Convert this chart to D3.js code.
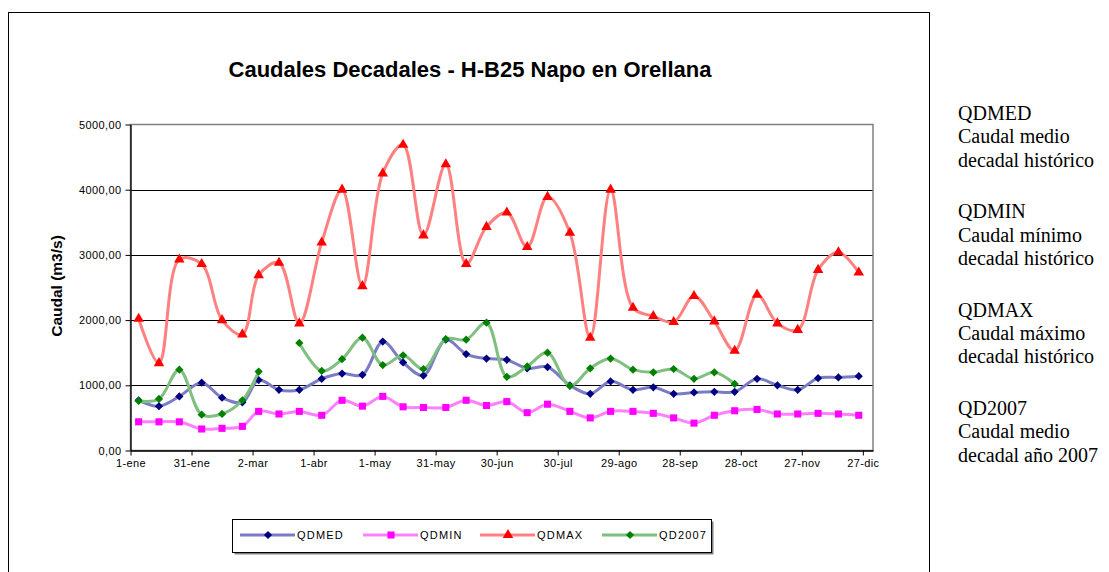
<!DOCTYPE html>
<html>
<head>
<meta charset="utf-8">
<title>Caudales Decadales - H-B25 Napo en Orellana</title>
<script src="https://d3js.org/d3.v7.min.js"></script>
<style>
  body { margin: 0; background: #fff; }
  text { font-family: "Liberation Sans", Arial, sans-serif; }
</style>
</head>
<body>
<div id="chart"></div>
<script>
// Decadas (fecha central de cada decada)
const decadas = [
  "2007-01-05", "2007-01-15", "2007-01-25", "2007-02-05", "2007-02-15", "2007-02-25",
  "2007-03-05", "2007-03-15", "2007-03-25", "2007-04-05", "2007-04-15", "2007-04-25",
  "2007-05-05", "2007-05-15", "2007-05-25", "2007-06-05", "2007-06-15", "2007-06-25",
  "2007-07-05", "2007-07-15", "2007-07-25", "2007-08-05", "2007-08-15", "2007-08-25",
  "2007-09-05", "2007-09-15", "2007-09-25", "2007-10-05", "2007-10-15", "2007-10-25",
  "2007-11-05", "2007-11-15", "2007-11-25", "2007-12-05", "2007-12-15", "2007-12-25"
];
const qdmed = [770, 680, 830, 1040, 810, 740, 1080, 930, 930, 1100, 1180, 1160,
  1670, 1350, 1150, 1700, 1480, 1410, 1390, 1260, 1280, 1000, 870, 1060,
  930, 970, 870, 890, 900, 900, 1100, 1000, 930, 1110, 1120, 1140];
const qdmin = [440, 440, 440, 330, 340, 370, 600, 560, 600, 540, 770, 680,
  830, 670, 660, 660, 770, 690, 750, 580, 710, 600, 500, 600,
  600, 570, 500, 420, 540, 610, 630, 560, 560, 570, 560, 540];
const qdmax = [2020, 1340, 2930, 2860, 2000, 1780, 2690, 2880, 1950, 3190, 4000, 2520,
  4250, 4690, 3300, 4390, 2860, 3430, 3650, 3120, 3890, 3340, 1730, 4000,
  2190, 2060, 1970, 2370, 1980, 1530, 2390, 1950, 1850, 2770, 3040, 2730];
const qd2007 = [760, 790, 1240, 550, 560, 770, 1210, null, 1650, 1220, 1400, 1730,
  1310, 1460, 1250, 1710, 1700, 1960, 1130, 1290, 1500, 990, 1260, 1410,
  1240, 1200, 1250, 1100, 1200, 1020, null, null, null, null, null, null];
const tickLabels = ["1-ene", "31-ene", "2-mar", "1-abr", "1-may", "31-may", "30-jun",
  "30-jul", "29-ago", "28-sep", "28-oct", "27-nov", "27-dic"];
const yTicks = [0, 1000, 2000, 3000, 4000, 5000];

const series = [
  { name: "QDMED", values: qdmed, line: "#7b7bc6", marker: "#000080", shape: "diamond" },
  { name: "QDMIN", values: qdmin, line: "#ff80ff", marker: "#ff00ff", shape: "square" },
  { name: "QDMAX", values: qdmax, line: "#ff8080", marker: "#ff0000", shape: "triangle" },
  { name: "QD2007", values: qd2007, line: "#7fbf7f", marker: "#008000", shape: "diamond" }
];
const notas = [
  ["QDMED", "Caudal medio", "decadal histórico"],
  ["QDMIN", "Caudal mínimo", "decadal histórico"],
  ["QDMAX", "Caudal máximo", "decadal histórico"],
  ["QD2007", "Caudal medio", "decadal año 2007"]
];

const W = 1109, H = 572;
const plot = { left: 130.5, right: 873, top: 124.5, bottom: 450.5 };

const svg = d3.select("#chart").append("svg")
  .attr("width", W).attr("height", H);

// chart frame
svg.append("rect")
  .attr("x", 8.5).attr("y", 12.5).attr("width", 921).attr("height", 600)
  .attr("fill", "none").attr("stroke", "#000").attr("stroke-width", 1);

const parse = d3.utcParse("%Y-%m-%d");
const start = parse("2007-01-01");
const x = d3.scaleUtc()
  .domain([start, parse("2008-01-01")])
  .range([plot.left, plot.right]);
const y = d3.scaleLinear()
  .domain([0, 5000])
  .range([plot.bottom, plot.top]);

// grid
svg.append("g")
  .selectAll("line")
  .data(yTicks.slice(1, -1))
  .join("line")
  .attr("x1", plot.left).attr("x2", plot.right)
  .attr("y1", d => Math.round(y(d)) + 0.5).attr("y2", d => Math.round(y(d)) + 0.5)
  .attr("stroke", "#000").attr("stroke-width", 1);

// plot area border (gray)
svg.append("rect")
  .attr("x", plot.left).attr("y", plot.top)
  .attr("width", plot.right - plot.left).attr("height", plot.bottom - plot.top)
  .attr("fill", "none").attr("stroke", "#808080").attr("stroke-width", 1.5);

// axes
const fmt = d3.formatLocale({ decimal: ",", thousands: ".", grouping: [3], currency: ["", ""] }).format(".2f");
const yAxis = svg.append("g")
  .attr("transform", `translate(${plot.left},0)`)
  .call(d3.axisLeft(y).tickValues(yTicks).tickFormat(fmt).tickSize(5).tickSizeOuter(0).tickPadding(4));

const xTickDates = tickLabels.map((t, i) => d3.utcDay.offset(start, 30 * i));
const xAxis = svg.append("g")
  .attr("transform", `translate(0,${plot.bottom})`)
  .call(d3.axisBottom(x).tickValues(xTickDates).tickFormat((d, i) => tickLabels[i])
    .tickSize(5).tickSizeOuter(0).tickPadding(4));

[yAxis, xAxis].forEach(g => {
  g.select(".domain").attr("stroke", "#000").attr("stroke-width", 1.3);
  g.selectAll(".tick line").attr("stroke", "#000");
  g.selectAll(".tick text")
    .attr("fill", "#000")
    .style("font-family", "'Liberation Sans', Arial, sans-serif")
    .style("font-size", "11px")
    .style("letter-spacing", "0.4px");
});

// titles
svg.append("text")
  .attr("x", 470).attr("y", 77)
  .attr("text-anchor", "middle")
  .style("font-size", "22px").style("font-weight", "bold")
  .text("Caudales Decadales - H-B25 Napo en Orellana");

svg.append("text")
  .attr("transform", "translate(62,286) rotate(-90)")
  .attr("text-anchor", "middle")
  .style("font-size", "15.5px").style("font-weight", "bold")
  .text("Caudal (m3/s)");

// symbols
function marker(g, shape, color) {
  if (shape === "diamond") {
    g.append("path").attr("d", d3.symbol(d3.symbolSquare, 34)())
      .attr("transform", "rotate(45)").attr("fill", color);
  } else if (shape === "square") {
    g.append("path").attr("d", d3.symbol(d3.symbolSquare, 50)()).attr("fill", color);
  } else {
    g.append("path").attr("d", d3.symbol(d3.symbolTriangle, 48)()).attr("fill", color);
  }
}

const dates = decadas.map(parse);
const line = d3.line()
  .defined(d => d.v != null)
  .x(d => x(d.date))
  .y(d => y(d.v))
  .curve(d3.curveCatmullRom.alpha(0.5));

series.forEach(s => {
  const pts = s.values.map((v, i) => ({ date: dates[i], v }));
  const g = svg.append("g");
  g.append("path")
    .datum(pts)
    .attr("d", line)
    .attr("fill", "none")
    .attr("stroke", s.line)
    .attr("stroke-width", 3)
    .attr("stroke-linejoin", "round");
  g.selectAll("g.m")
    .data(pts.filter(d => d.v != null))
    .join("g")
    .attr("class", "m")
    .attr("transform", d => `translate(${x(d.date)},${y(d.v)})`)
    .each(function () { marker(d3.select(this), s.shape, s.marker); });
});

// legend
const legend = svg.append("g");
legend.append("rect")
  .attr("x", 234.5).attr("y", 521.5).attr("width", 479).attr("height", 33)
  .attr("fill", "#808080");
legend.append("rect")
  .attr("x", 232.5).attr("y", 519.5).attr("width", 479).attr("height", 33)
  .attr("fill", "#fff").attr("stroke", "#000").attr("stroke-width", 1);
const legX = [240, 363, 480, 602];
series.forEach((s, i) => {
  const g = legend.append("g").attr("transform", `translate(${legX[i]},535)`);
  g.append("line").attr("x1", 0).attr("x2", 55).attr("y1", 0).attr("y2", 0)
    .attr("stroke", s.line).attr("stroke-width", 3);
  const m = g.append("g").attr("transform", "translate(28,0)");
  marker(m, s.shape, s.marker);
  g.append("text").attr("x", 57).attr("y", 4)
    .style("font-size", "11px").style("letter-spacing", "1.2px")
    .text(s.name);
});

// side notes
notas.forEach((n, i) => {
  n.forEach((t, j) => {
    svg.append("text")
      .attr("x", 958).attr("y", 120 + i * 98.3 + j * 23.3)
      .style("font-family", "'Liberation Serif', 'Times New Roman', serif")
      .style("font-size", "20px")
      .text(t);
  });
});
</script>
</body>
</html>
